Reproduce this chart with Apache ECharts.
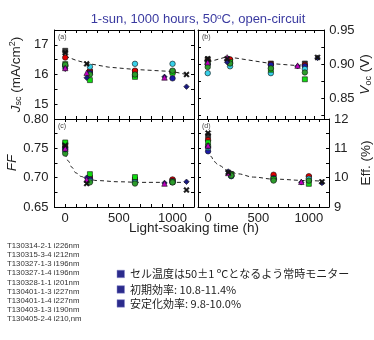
<!DOCTYPE html>
<html><head><meta charset="utf-8">
<script src="https://cdn.jsdelivr.net/npm/echarts@6/dist/echarts.min.js"></script>
<style>html,body{margin:0;padding:0;background:#fff}#c{width:374px;height:340px}</style>
</head><body><div id="c"></div>
<script>
// ---- data ----
const sampleNames = ['T130314-2-1 i226nm','T130315-3-4 i212nm','T130327-1-3 i196nm','T130327-1-4 i196nm','T130328-1-1 i201nm','T130401-1-3 i227nm','T130401-1-4 i227nm','T130403-1-3 i190nm','T130405-2-4 i210,nm'];
const sampleTimes = [
  [0,230,650,1000],[0,230,650,1000],[0,230,650,1000],[0,230,650,1000],[0,230,650,1000],[0,230,650,1000],
  [0,200,925,1130],[0,200,925],[0,200,1130]];
const jscValues = [
  [16.80,16.09,16.10,16.10],[16.57,16.12,16.13,16.08],[16.28,16.05,15.95,15.87],[16.30,16.26,16.36,16.36],
  [16.35,15.81,15.92,16.06],[16.33,16.00,16.00,16.13],[16.19,15.89,15.92,15.59],[16.22,16.06,15.90],[16.73,16.36,16.00]];
const vocValues = [
  [0.907,0.905,0.901,0.901],[0.905,0.907,0.900,0.899],[0.900,0.902,0.899,0.897],[0.887,0.897,0.887,0.893],
  [0.903,0.903,0.892,0.878],[0.896,0.901,0.894,0.888],[0.905,0.903,0.897,0.909],[0.903,0.910,0.898],[0.908,0.908,0.910]];
const ffValues = [
  [0.757,0.700,0.697,0.695],[0.752,0.699,0.696,0.697],[0.750,0.697,0.694,0.694],[0.745,0.694,0.692,0.692],
  [0.760,0.706,0.701,0.693],[0.741,0.692,0.690,0.692],[0.748,0.700,0.691,0.693],[0.750,0.697,0.690],[0.755,0.690,0.679]];
const effValues = [
  [11.42,10.12,10.01,10.00],[11.28,10.10,10.10,10.05],[10.90,10.05,9.98,9.90],[11.02,10.06,9.93,9.96],
  [11.20,10.10,9.95,9.79],[11.08,10.07,9.90,9.90],[11.05,10.21,9.84,9.82],[11.10,10.16,9.86],[11.52,10.18,9.86]];
const fitTimesA = [0,100,200,400,650,1000,1130];
const fitJsc = [16.62,16.48,16.38,16.25,16.17,16.10,16.00];
const fitTimesB = [0,200,650,925,1000];
const fitVoc = [0.903,0.911,0.901,0.898,0.900];
const fitTimesC = [0,30,60,100,150,200,300,500,700,1000,1130];
const fitFF = [0.742,0.728,0.718,0.708,0.702,0.698,0.695,0.693,0.692,0.692,0.692];
const fitTimesD = [0,30,60,105,200,295,450,650,1000,1130];
const fitEff = [10.97,10.72,10.55,10.42,10.24,10.13,10.02,9.95,9.90,9.88];
const xTickLabels = [0,500,1000];
const xTicks = [-100,0,100,200,300,400,500,600,700,800,900,1000,1100,1200];
const jscTickLabels = [15,16,17];
const jscTicks = [14.5,15,15.5,16,16.5,17,17.5];
const vocTickLabels = [0.85,0.90,0.95];
const vocTicks = [0.825,0.85,0.875,0.90,0.925,0.95];
const ffTickLabels = [0.65,0.70,0.75,0.80];
const ffTicks = [0.65,0.675,0.70,0.725,0.75,0.775,0.80];
const effTickLabels = [9,10,11,12];
const effTicks = [9,9.5,10,10.5,11,11.5,12];
const infoLines = ['セル温度は50±1 ºCとなるよう常時モニター','初期効率: 10.8-11.4%','安定化効率: 9.8-10.0%'];

// ---- styles ----
const FONT = '"Liberation Sans", Arial, sans-serif';
const markerStyles = [
  {symbol:'rect', color:'#333333'},
  {symbol:'circle', color:'#e00000'},
  {symbol:'circle', color:'#1a1aa8'},
  {symbol:'circle', color:'#38d0e8'},
  {symbol:'rect', color:'#10dd10'},
  {symbol:'circle', color:'#2c9c2c'},
  {symbol:'diamond', color:'#1a1a80'},
  {symbol:'triangle', color:'#c000c0'},
  {symbol:'path://M0,2L2,0L5,3L8,0L10,2L7,5L10,8L8,10L5,7L2,10L0,8L3,5Z', color:'#111111'}
];
const grids = [
  {left:54.5, top:30, width:139.5, height:89},
  {left:198, top:30, width:137, height:89},
  {left:54.5, top:119, width:139.5, height:88},
  {left:198, top:119, width:137, height:88}];
const panels = [
  {min:14.5, max:17.5, ticks:jscTicks, labels:jscTickLabels, side:'left', fmt:v=>String(Math.round(v)),
   name:'{i|J}{sub|sc}{n| (mA/cm}{sup|2}{n|)}', values:jscValues, fitT:fitTimesA, fitV:fitJsc, smooth:false},
  {min:0.82, max:0.95, ticks:vocTicks, labels:vocTickLabels, side:'right', fmt:v=>v.toFixed(2),
   name:'{i|V}{sub|oc}{n| (V)}', values:vocValues, fitT:fitTimesB, fitV:fitVoc, smooth:false},
  {min:0.65, max:0.80, ticks:ffTicks, labels:ffTickLabels, side:'left', fmt:v=>v.toFixed(2),
   name:'{i|FF}', values:ffValues, fitT:fitTimesC, fitV:fitFF, smooth:0.4},
  {min:9, max:12, ticks:effTicks, labels:effTickLabels, side:'right', fmt:v=>String(Math.round(v)),
   name:'{n|Eff. (%)}', values:effValues, fitT:fitTimesD, fitV:fitEff, smooth:0.4}];

const nameRich = {
  n:{fontSize:13.5, fontFamily:FONT, color:'#222'},
  i:{fontSize:13.5, fontFamily:FONT, fontStyle:'italic', color:'#222'},
  sub:{fontSize:9, fontFamily:FONT, color:'#222', verticalAlign:'bottom', padding:[6,0,0,0]},
  sup:{fontSize:9, fontFamily:FONT, color:'#222', verticalAlign:'top', padding:[0,0,6,0]}
};

const xAxis = [], yAxis = [], series = [];
grids.forEach((g, gi) => {
  ['bottom','top'].forEach(pos => {
    xAxis.push({
      type:'value', gridIndex:gi, position:pos, min:-100, max:1200,
      axisLine:{show:true, onZero:false, lineStyle:{color:'#000', width:1}},
      axisTick:{show:true, inside:true, length:3, customValues:xTicks, lineStyle:{color:'#000'}},
      axisLabel:{show: pos==='bottom' && gi>=2, customValues:xTickLabels, formatter:v=>String(v),
                 fontSize:13, fontFamily:FONT, color:'#222', margin:5},
      splitLine:{show:false}
    });
  });
  const p = panels[gi];
  ['left','right'].forEach(pos => {
    const main = pos === p.side;
    yAxis.push({
      type:'value', gridIndex:gi, position:pos, min:p.min, max:p.max,
      axisLine:{show:true, onZero:false, lineStyle:{color:'#000', width:1}},
      axisTick:{show:true, inside:true, length:3, customValues:p.ticks, lineStyle:{color:'#000'}},
      axisLabel:{show:main, customValues:p.labels, formatter:p.fmt, fontSize:13, fontFamily:FONT, color:'#222', margin: pos==='left'?6:5},
      splitLine:{show:false},
      name: main ? p.name : '', nameLocation:'middle', nameRotate:90,
      nameGap: pos==='left' ? 31 : 30,
      nameTextStyle:{rich:nameRich}
    });
  });
  series.push({
    type:'line', xAxisIndex:2*gi, yAxisIndex:2*gi, symbol:'none', silent:true,
    smooth:p.smooth, smoothMonotone:'x',
    data:p.fitT.map((t,i)=>[t,p.fitV[i]]),
    lineStyle:{color:'#222', width:1, type:[4,3]}, z:1
  });
  sampleTimes.forEach((times, si) => {
    const m = markerStyles[si];
    series.push({
      type:'scatter', xAxisIndex:2*gi, yAxisIndex:2*gi, name:sampleNames[si],
      data:times.map((t,i)=>[t, p.values[si][i]]),
      symbol:m.symbol, symbolSize: m.symbol==='rect'?5:5.5,
      itemStyle:{color:m.color, borderColor:'#111', borderWidth:0.6, opacity:1}, z:2
    });
  });
});

const graphic = [];
[['(a)',58,37],['(b)',202,37],['(c)',58,126],['(d)',202,126]].forEach(([t,x,y]) => {
  graphic.push({type:'text', x:x, y:y, style:{text:t, font:'7px '+FONT, fill:'#444', verticalAlign:'middle'}});
});
graphic.push({type:'text', x:194, y:228, style:{text:'Light-soaking time (h)', font:'13.5px '+FONT, fill:'#222', align:'center', verticalAlign:'middle'}});
sampleNames.forEach((s,i) => {
  graphic.push({type:'text', x:7, y:246 + i*9.1, style:{text:s, font:'7.8px '+FONT, fill:'#333', verticalAlign:'middle'}});
});
const infoY = [274, 289.5, 303.5];
infoLines.forEach((s,i) => {
  graphic.push({type:'rect', shape:{x:117, y:infoY[i]-3.8, width:7.5, height:7.5}, style:{fill:'#2b2b8c', stroke:'#8888cc', lineWidth:0.5}});
  graphic.push({type:'text', x:130, y:infoY[i], style:{text:s, font:'11px "Noto Sans CJK JP", '+FONT, fill:'#222', verticalAlign:'middle'}});
});

const chart = echarts.init(document.getElementById('c'), null, {renderer:'canvas'});
chart.setOption({
  animation:false,
  backgroundColor:'#fff',
  title:{
    text:'{n|1-sun, 1000 hours, 50}{s|o}{n|C, open-circuit}',
    left:193, top:8, textAlign:'center',
    textStyle:{fontWeight:'normal', rich:{
      n:{fontSize:13, fontFamily:FONT, fontWeight:'normal', color:'#3a3aa0'},
      s:{fontSize:8, fontFamily:FONT, fontWeight:'normal', color:'#3a3aa0', verticalAlign:'top', padding:[0,0,5,0]}
    }}
  },
  grid:grids,
  xAxis:xAxis, yAxis:yAxis, series:series, graphic:graphic
});
</script></body></html>
